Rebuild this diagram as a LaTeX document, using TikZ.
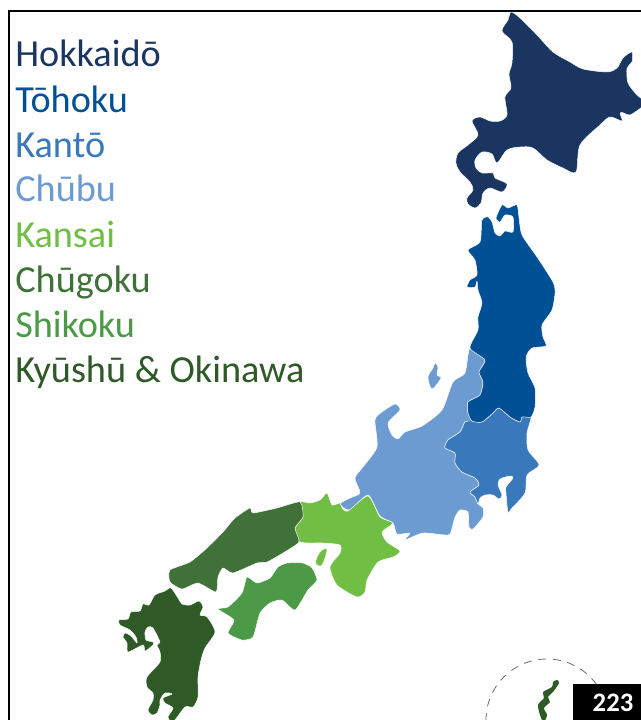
\documentclass[tikz,border=0pt]{standalone}
\usepackage{fontspec}
\setmainfont{Carlito}
\definecolor{cHok}{HTML}{1A3660}
\definecolor{cToh}{HTML}{005096}
\definecolor{cKan}{HTML}{3A78BC}
\definecolor{cChb}{HTML}{6C9BD2}
\definecolor{cKns}{HTML}{70BF44}
\definecolor{cChg}{HTML}{3F7138}
\definecolor{cShi}{HTML}{4C9A47}
\definecolor{cKyu}{HTML}{2F5A28}
\tikzset{
  region/.style={fill=#1,draw=white,line width=0.35pt,line join=round},
  legend/.style={anchor=base west,inner sep=0pt,font=\fontsize{28.7pt}{32pt}\selectfont,text=#1},
}
\begin{document}
\begin{tikzpicture}[x=0.75pt,y=-0.75pt]
\useasboundingbox (0,0) rectangle (641,720);
\clip (0,0) rectangle (641,720);
\draw[black,line width=1.1pt] (9,720) -- (9,11) -- (641,11);
% Hokkaido
\path[region=cHok] plot[smooth cycle,tension=.5] coordinates {(511,12)(520,18)(537,35)(553,52)(570,62)(583,69)(607,72)(617,68)(623,58)(632,52)(632,62)(627,68)(628,83)(637,95)(643,100)(643,106)(630,115)(624,113)(620,113)(622,121)(610,117)(600,125)(580,145)(576,172)(563,168)(547,160)(533,148)(520,147)(507,150)(497,163)(492,154)(482,152)(475,160)(476,168)(482,173)(493,173)(495,178)(507,184)(502,192)(490,188)(483,193)(481,203)(475,208)(468,204)(467,198)(473,190)(470,182)(460,172)(456,163)(458,153)(468,145)(478,135)(472,121)(480,117)(490,121)(500,121)(507,115)(505,97)(511,88)(509,74)(512,63)(512,42)(502,31)(508,20)};
% Chubu
\path[region=cChb] plot[smooth cycle,tension=.4] coordinates {(470,348)(485,360)(479,372)(483,382)(480,395)(468,402)(468,413)(473,421)(465,422)(460,432)(448,440)(445,448)(455,453)(455,463)(462,472)(475,478)(479,485)(470,492)(475,497)(478,504)(483,508)(483,517)(473,529)(469,527)(468,512)(460,510)(455,517)(452,528)(448,535)(423,533)(405,540)(410,533)(397,534)(393,523)(380,516)(368,495)(350,510)(340,504)(350,498)(360,493)(355,478)(363,467)(377,447)(375,420)(382,412)(395,404)(400,410)(388,423)(392,435)(398,439)(405,432)(422,426)(442,410)(453,382)(465,373)};
\path[region=cChb] plot[smooth cycle,tension=.5] coordinates {(435,363)(438,367)(437,375)(441,378)(432,389)(428,377)(433,368)};
% Kanto
\path[region=cKan] plot[smooth cycle,tension=.45] coordinates {(531,417)(527,433)(528,450)(539,465)(527,475)(525,493)(512,508)(508,512)(506,493)(506,487)(513,478)(510,476)(500,479)(498,485)(502,495)(499,499)(493,495)(485,495)(480,498)(478,504)(475,497)(470,492)(479,485)(475,478)(462,472)(455,463)(455,453)(445,448)(448,440)(460,432)(465,422)(472,421)(482,422)(493,413)(499,408)(510,417)(520,422)(522,417)};
% Tohoku
\path[region=cToh] plot[smooth cycle,tension=.4] coordinates {(470,348)(478,330)(478,317)(482,303)(478,290)(477,281)(475,287)(467,287)(470,280)(477,275)(475,260)(468,250)(480,242)(482,220)(488,217)(492,222)(495,233)(500,236)(505,231)(513,232)(513,217)(505,215)(500,222)(496,218)(502,205)(508,208)(517,205)(519,218)(522,235)(537,257)(553,282)(555,293)(552,310)(542,325)(543,337)(546,346)(532,348)(526,357)(528,373)(535,388)(535,407)(531,417)(522,417)(520,422)(510,417)(499,408)(493,413)(482,422)(472,421)(468,413)(468,402)(480,395)(483,382)(479,372)(485,360)};
% Kansai
\path[region=cKns] plot[smooth cycle,tension=.4] coordinates {(300,502)(310,503)(320,500)(327,493)(332,505)(340,503)(342,508)(348,511)(368,496)(380,517)(393,523)(382,532)(387,542)(400,551)(393,557)(378,562)(367,580)(365,592)(357,597)(337,585)(330,567)(340,553)(340,545)(323,543)(300,542)(295,528)(303,517)};
\path[region=cKns] plot[smooth cycle,tension=.6] coordinates {(327,550)(322,565)(316,564)(317,557)(322,550)};
% Chugoku
\path[region=cChg] plot[smooth cycle,tension=.35] coordinates {(300,502)(303,517)(295,528)(299,542)(283,553)(267,562)(257,563)(233,573)(223,568)(218,577)(216,592)(198,583)(182,589)(170,582)(170,570)(190,562)(207,548)(223,532)(235,518)(250,508)(253,513)(277,508)};
% Shikoku
\path[region=cShi] plot[smooth cycle,tension=.35] coordinates {(287,563)(303,563)(312,568)(317,580)(308,590)(295,610)(282,600)(270,603)(260,613)(253,637)(242,640)(228,633)(234,620)(218,609)(228,607)(242,593)(247,577)(257,583)(270,578)(278,567)};
% Kyushu
\path[region=cKyu] plot[smooth cycle,tension=.45] coordinates {(171,588)(178,598)(182,604)(190,605)(199,601)(203,607)(200,615)(207,617)(215,632)(205,648)(201,660)(198,677)(198,697)(193,707)(185,707)(173,722)(168,717)(173,708)(165,703)(163,698)(172,694)(165,693)(160,700)(160,705)(157,713)(152,715)(148,710)(153,700)(153,693)(147,687)(147,677)(160,662)(160,652)(157,645)(160,642)(153,628)(148,627)(145,632)(146,640)(153,642)(153,645)(145,651)(143,645)(128,652)(127,643)(123,637)(125,633)(131,636)(137,643)(136,637)(130,630)(120,625)(119,620)(128,619)(131,612)(140,611)(143,604)(149,605)(155,595)(165,591)};
% Okinawa
\draw[gray!85!black,line width=0.6pt,dash pattern=on 6pt off 5pt] (547,720) circle [radius=61];
\path[region=cKyu,draw=none] plot[smooth cycle,tension=.5] coordinates {(557,680)(559,683)(553,692)(548,697)(550,702)(544,708)(547,715)(544,722)(541,718)(538,705)(544,698)(543,692)(552,687)(553,682)};
% page tab
\node[fill=black,minimum width=51pt,minimum height=27pt,inner sep=0pt,anchor=north west] (tab) at (573,684) {};
\node[text=white,font=\fontsize{20pt}{22pt}\selectfont\bfseries,inner sep=0pt,anchor=base] (pagenum) at (613,711) {223};
% legend
\node[legend=cHok] (lHok) at (15,67) {Hokkaidō};
\node[legend=cToh] (lToh) at (15,112.5) {Tōhoku};
\node[legend=cKan] (lKan) at (15,157.5) {Kantō};
\node[legend=cChb] (lChb) at (15,202) {Chūbu};
\node[legend=cKns] (lKns) at (15,247.5) {Kansai};
\node[legend=cChg] (lChg) at (15,292.5) {Chūgoku};
\node[legend=cShi] (lShi) at (15,337.5) {Shikoku};
\node[legend=cKyu] (lKyu) at (15,382.5) {Kyūshū \& Okinawa};
\end{tikzpicture}
\end{document}
